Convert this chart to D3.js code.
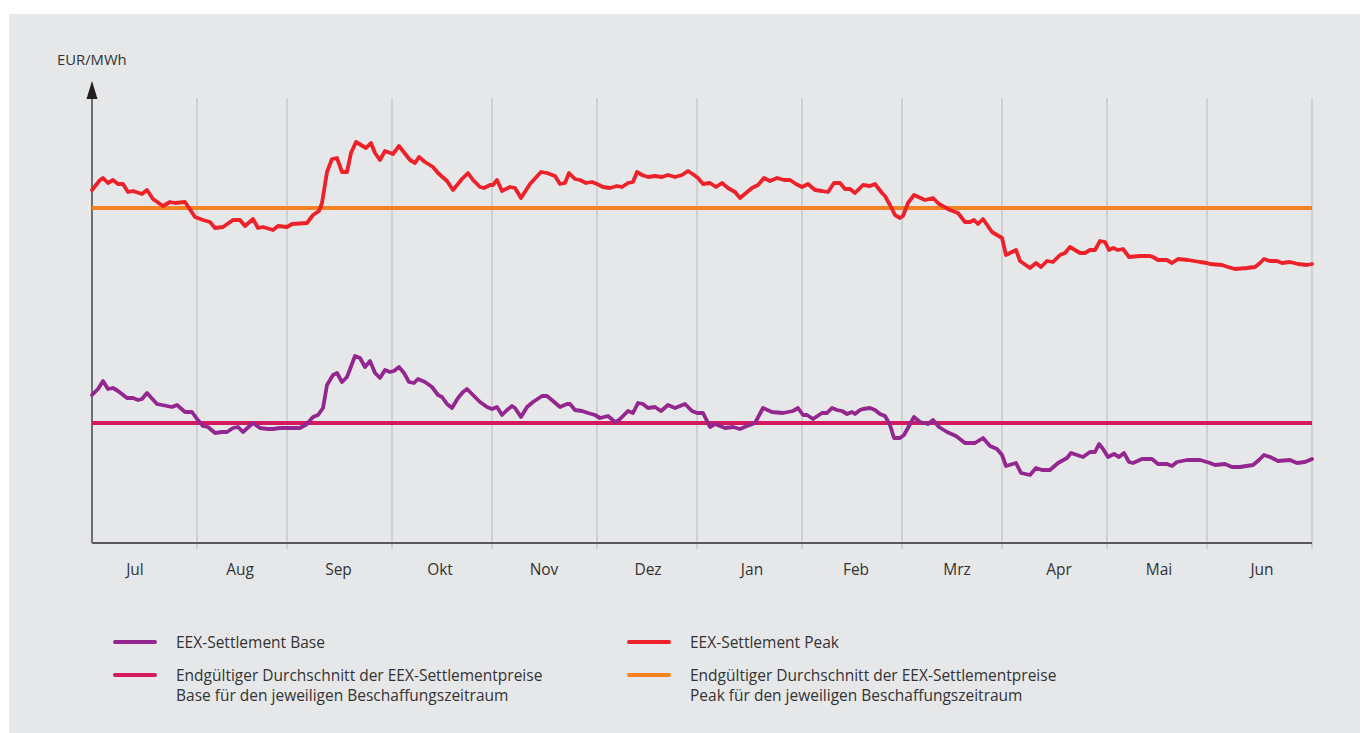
<!DOCTYPE html>
<html>
<head>
<meta charset="utf-8">
<script src="https://cdn.jsdelivr.net/npm/d3@7"></script>
<style>
  body { margin: 0; background: #fff; }
  text { font-family: "Open Sans", "Noto Sans", sans-serif; fill: #333; }
</style>
</head>
<body>
<div id="chart"></div>
<script>
// months on the x axis, the trading day each one starts on, and where its label sits
var months = ["Jul", "Aug", "Sep", "Okt", "Nov", "Dez", "Jan", "Feb", "Mrz", "Apr", "Mai", "Jun"];
var monthStarts = [0, 21, 39, 60, 80, 101, 121, 142, 162, 182, 203, 223, 244];
var labelDays = [8.6, 29.6, 49.3, 69.6, 90.4, 111.2, 132, 152.8, 173, 193.4, 213.4, 234];

// final averages (EUR/MWh)
var peakAvg = 63.5;
var baseAvg = 42.0;

// [trading day, EUR/MWh]
var peakSeries = [
  [0, 65.3], [1.6, 66.3], [2.2, 66.5], [3.2, 66.0], [4.2, 66.3], [5.2, 65.9], [6.2, 65.9], [7.2, 65.1],
  [8.2, 65.2], [10, 64.9], [11, 65.3], [12.2, 64.4], [14.2, 63.7], [15.6, 64.1], [16.6, 64.0], [18.6, 64.1],
  [20.6, 62.6], [22.2, 62.3], [23.6, 62.1], [24.6, 61.5], [26.2, 61.6], [28.2, 62.3], [29.6, 62.3], [30.6, 61.7],
  [32.2, 62.4], [33.2, 61.5], [34.2, 61.6], [36.2, 61.3], [37.2, 61.7], [39, 61.6], [40, 61.9], [43, 62.0],
  [44.2, 62.8], [45.4, 63.2], [46, 64.0], [47, 67.1], [48, 68.4], [49, 68.5], [50, 67.1], [51, 67.1],
  [51.8, 69.0], [52.8, 70.1], [54.8, 69.5], [55.8, 70.0], [56.6, 69.0], [57.6, 68.3], [58.6, 69.2], [60.2, 68.9],
  [61.4, 69.7], [63.6, 68.3], [64.6, 68.0], [65.4, 68.6], [66.6, 68.1], [68.2, 67.6], [69.2, 67.0], [71, 66.2],
  [72.2, 65.3], [74, 66.4], [75.2, 67.0], [76.2, 66.3], [77.6, 65.6], [78.4, 65.5], [79.6, 65.8], [80.2, 65.8],
  [81, 66.3], [82, 65.2], [83.6, 65.6], [84.6, 65.5], [85.8, 64.5], [87.6, 65.9], [89.8, 67.1], [91, 67.0],
  [92.6, 66.7], [93.6, 65.9], [94.6, 66.0], [95.4, 67.0], [96.6, 66.4], [97.6, 66.3], [98.8, 66.0], [100, 66.1],
  [101, 65.9], [102.2, 65.6], [103.6, 65.5], [105, 65.7], [106, 65.6], [107.2, 66.0], [108.2, 66.1], [109, 67.1],
  [110, 66.8], [111.2, 66.6], [112.6, 66.7], [114, 66.6], [115.2, 66.8], [116.6, 66.6], [118, 66.8], [119.2, 67.2],
  [120.4, 66.8], [121.2, 66.5], [122.2, 65.9], [123.6, 66.0], [124.8, 65.6], [126, 66.0], [127.2, 65.5], [128.6, 65.1],
  [129.6, 64.5], [130.8, 65.0], [132, 65.5], [133.2, 65.8], [134.4, 66.5], [135.6, 66.2], [137, 66.5], [138.4, 66.3],
  [139.6, 66.3], [140.8, 65.9], [142, 65.6], [143.2, 65.9], [144.6, 65.3], [146, 65.2], [147.2, 65.1], [148.4, 66.0],
  [149.6, 66.0], [150.6, 65.4], [151.6, 65.4], [152.6, 65.0], [154.2, 65.8], [155.6, 65.7], [156.6, 65.9], [158, 65.0],
  [158.6, 64.7], [159.6, 63.8], [160.6, 62.8], [161.6, 62.5], [162.2, 62.7], [163.2, 64.0], [164.4, 64.8], [166.6, 64.3],
  [168.2, 64.5], [169.4, 63.9], [171.6, 63.3], [173.2, 63.0], [174.6, 62.1], [175.6, 62.1], [176.4, 62.3], [177.2, 61.9],
  [178.2, 62.4], [180, 61.1], [182, 60.5], [182.8, 58.8], [183.6, 59.0], [184.8, 59.3], [185.6, 58.2], [187.6, 57.5],
  [188.8, 58.0], [189.8, 57.6], [191, 58.2], [192.2, 58.1], [193.6, 58.8], [194.6, 59.0], [195.6, 59.6], [197.6, 59.0],
  [198.6, 59.0], [199.6, 59.3], [200.6, 59.3], [201.6, 60.2], [202.6, 60.1], [203.4, 59.3], [204.2, 59.5], [205.2, 59.3],
  [206.2, 59.4], [207.4, 58.6], [209.6, 58.7], [211.6, 58.7], [212.2, 58.6], [213.2, 58.3], [215, 58.3], [216, 58.0],
  [217.2, 58.4], [219.2, 58.3], [221.6, 58.1], [223, 58.0], [223.6, 57.9], [226, 57.8], [227.2, 57.6], [228.6, 57.4],
  [231, 57.5], [232.6, 57.6], [233.6, 58.0], [234.4, 58.4], [235.6, 58.2], [237, 58.2], [238, 58.0], [239.6, 58.1],
  [241.2, 57.9], [243, 57.8], [244, 57.9]
];

var baseSeries = [
  [0, 44.8], [1.2, 45.4], [2.2, 46.2], [3.2, 45.4], [4.2, 45.5], [5.2, 45.2], [7, 44.5], [8.2, 44.5],
  [9.2, 44.3], [10, 44.4], [11, 45.0], [13, 43.9], [15, 43.7], [16, 43.6], [17, 43.8], [18.6, 43.1],
  [20, 43.1], [21, 42.4], [22.2, 41.7], [23.2, 41.6], [24.6, 41.0], [26, 41.1], [27, 41.1], [28.2, 41.5],
  [29.2, 41.6], [30.2, 41.1], [32.2, 42.0], [33.6, 41.5], [35.2, 41.4], [36.2, 41.4], [37.6, 41.5], [39.2, 41.5],
  [41.6, 41.5], [43, 41.9], [44.2, 42.6], [45.2, 42.8], [46.2, 43.5], [47, 45.8], [48.2, 46.8], [49, 47.0],
  [50, 46.1], [51, 46.6], [52.6, 48.7], [53.6, 48.5], [54.6, 47.6], [55.6, 48.2], [56.6, 47.0], [57.6, 46.5],
  [58.6, 47.3], [59.6, 47.1], [60.4, 47.2], [61.4, 47.6], [62.4, 47.0], [63.4, 46.1], [64.4, 46.0], [65.2, 46.4],
  [66.6, 46.1], [68, 45.6], [69.2, 44.8], [70, 44.6], [71, 43.9], [72, 43.5], [73.2, 44.5], [74.2, 45.1],
  [75, 45.4], [76.2, 44.8], [77.6, 44.1], [79, 43.6], [80, 43.4], [81, 43.6], [82, 42.8], [83, 43.3],
  [84, 43.7], [84.6, 43.5], [85.8, 42.6], [87, 43.6], [88.2, 44.1], [90, 44.7], [91, 44.7], [92.2, 44.2],
  [93.6, 43.6], [95, 43.9], [95.6, 43.9], [96.6, 43.3], [98, 43.2], [99.2, 43.0], [100.6, 42.8], [101.6, 42.5],
  [103.2, 42.7], [104.6, 42.1], [105.4, 42.3], [107.2, 43.2], [108.2, 43.0], [109.2, 44.0], [110.2, 43.9], [111.2, 43.5],
  [112.6, 43.6], [113.8, 43.2], [115.2, 43.8], [116.6, 43.5], [118.6, 43.9], [120, 43.2], [121, 43.0], [122.2, 43.0],
  [123.6, 41.6], [124.6, 41.9], [126.6, 41.5], [128.2, 41.6], [129.6, 41.4], [131, 41.7], [132.6, 42.0], [134.2, 43.5],
  [136, 43.1], [138.2, 43.0], [140.2, 43.2], [141.2, 43.5], [142.2, 42.8], [143, 42.8], [144.2, 42.4], [146, 43.0],
  [147, 43.0], [148, 43.5], [149, 43.3], [150, 43.2], [151, 42.9], [152, 43.1], [152.6, 42.9], [153.6, 43.3],
  [154.2, 43.4], [155.6, 43.5], [156.6, 43.3], [157.6, 42.9], [158.6, 42.7], [159.6, 41.8], [160.4, 40.5], [161.6, 40.5],
  [162.4, 40.8], [163.4, 41.7], [164.4, 42.6], [165.6, 42.1], [167.2, 41.9], [168.2, 42.3], [169.4, 41.6], [171, 41.1],
  [172.8, 40.7], [174.6, 40.0], [176.6, 40.0], [178.2, 40.5], [179.6, 39.7], [181, 39.4], [182, 38.8], [182.8, 37.7],
  [184.8, 38.0], [185.8, 37.0], [187.6, 36.8], [188.8, 37.5], [190, 37.3], [191.6, 37.3], [193.2, 38.0], [195, 38.5],
  [195.8, 39.0], [198.2, 38.6], [199.6, 39.1], [200.6, 39.1], [201.4, 39.9], [202.2, 39.4], [203.2, 38.6], [204.4, 38.9],
  [205.4, 38.6], [206.4, 39.0], [207.4, 38.1], [208.2, 38.0], [210, 38.4], [212, 38.4], [213.2, 37.9], [215, 37.9],
  [216, 37.7], [217, 38.1], [219, 38.3], [221.6, 38.3], [223.6, 38.0], [224.6, 37.8], [226.6, 37.9], [228, 37.6],
  [229.6, 37.6], [232.2, 37.8], [233.4, 38.3], [234.4, 38.8], [235.6, 38.6], [237.2, 38.2], [239.6, 38.3], [241, 38.0],
  [242.6, 38.1], [244, 38.4]
];

var legendLabels = [
  ["EEX-Settlement Base"],
  ["Endgültiger Durchschnitt der EEX-Settlementpreise", "Base für den jeweiligen Beschaffungszeitraum"],
  ["EEX-Settlement Peak"],
  ["Endgültiger Durchschnitt der EEX-Settlementpreise", "Peak für den jeweiligen Beschaffungszeitraum"]
];

var colBase = "#93278f", colBaseAvg = "#d4195f", colPeak = "#ed2129", colPeakAvg = "#f58220";

var W = 1368, H = 733;
var margin = { top: 99, right: 56, bottom: 190, left: 92 };
var width = W - margin.left - margin.right,
  height = H - margin.top - margin.bottom;

var svg = d3.select("#chart")
  .append("svg")
  .attr("width", W)
  .attr("height", H);

// grey panel
svg.append("rect")
  .attr("x", 9).attr("y", 14)
  .attr("width", 1351).attr("height", 719)
  .attr("fill", "#e6e7e9");

var g = svg.append("g")
  .attr("transform", "translate(" + margin.left + "," + margin.top + ")");

var x = d3.scaleLinear()
  .domain([0, 244])
  .range([0, width]);

var y = d3.scaleLinear()
  .domain([30, 74.4])
  .range([height, 0]);

// month grid lines (go a bit below the axis like ticks)
g.selectAll(".grid")
  .data(monthStarts.slice(1))
  .enter()
  .append("line")
  .attr("x1", function (d) { return x(d); })
  .attr("x2", function (d) { return x(d); })
  .attr("y1", -1)
  .attr("y2", height + 6)
  .attr("stroke", "#c5c6c9")
  .attr("stroke-width", 1.4);

// month labels
g.selectAll(".mlabel")
  .data(months)
  .enter()
  .append("text")
  .attr("x", function (d, i) { return x(labelDays[i]); })
  .attr("y", height + 32)
  .attr("text-anchor", "middle")
  .style("font-size", "15.5px")
  .text(function (d) { return d; });

// axes
g.append("line")
  .attr("x1", 0).attr("x2", width)
  .attr("y1", height).attr("y2", height)
  .attr("stroke", "#58585a").attr("stroke-width", 2);
g.append("line")
  .attr("x1", 0).attr("x2", 0)
  .attr("y1", 0).attr("y2", height)
  .attr("stroke", "#6d6e71").attr("stroke-width", 2);
g.append("path")
  .attr("d", "M0,-18 L-5.5,0 L5.5,0 Z")
  .attr("fill", "#231f20");

svg.append("text")
  .attr("x", 57).attr("y", 65)
  .style("font-size", "14.8px")
  .text("EUR/MWh");

// average lines
[[peakAvg, colPeakAvg], [baseAvg, colBaseAvg]].forEach(function (a) {
  g.append("line")
    .attr("x1", x(0)).attr("x2", x(244))
    .attr("y1", y(a[0])).attr("y2", y(a[0]))
    .attr("stroke", a[1])
    .attr("stroke-width", 4);
});

var line = d3.line()
  .x(function (d) { return x(d[0]); })
  .y(function (d) { return y(d[1]); });

[[baseSeries, colBase], [peakSeries, colPeak]].forEach(function (s) {
  g.append("path")
    .datum(s[0])
    .attr("d", line)
    .attr("fill", "none")
    .attr("stroke", s[1])
    .attr("stroke-width", 3.8)
    .attr("stroke-linejoin", "round")
    .attr("stroke-linecap", "round");
});

// legend
var legendPos = [[115, 642], [115, 675], [629, 642], [629, 675]];
var legendCols = [colBase, colBaseAvg, colPeak, colPeakAvg];

var lg = svg.selectAll(".legend")
  .data(legendLabels)
  .enter()
  .append("g")
  .attr("transform", function (d, i) { return "translate(" + legendPos[i][0] + "," + legendPos[i][1] + ")"; });

lg.append("line")
  .attr("x1", 0).attr("x2", 40)
  .attr("stroke", function (d, i) { return legendCols[i]; })
  .attr("stroke-width", 4)
  .attr("stroke-linecap", "round");

lg.each(function (d) {
  var t = d3.select(this);
  d.forEach(function (s, j) {
    t.append("text")
      .attr("x", 61)
      .attr("y", 5.5 + j * 20)
      .style("font-size", "15.5px")
      .text(s);
  });
});
</script>
</body>
</html>
